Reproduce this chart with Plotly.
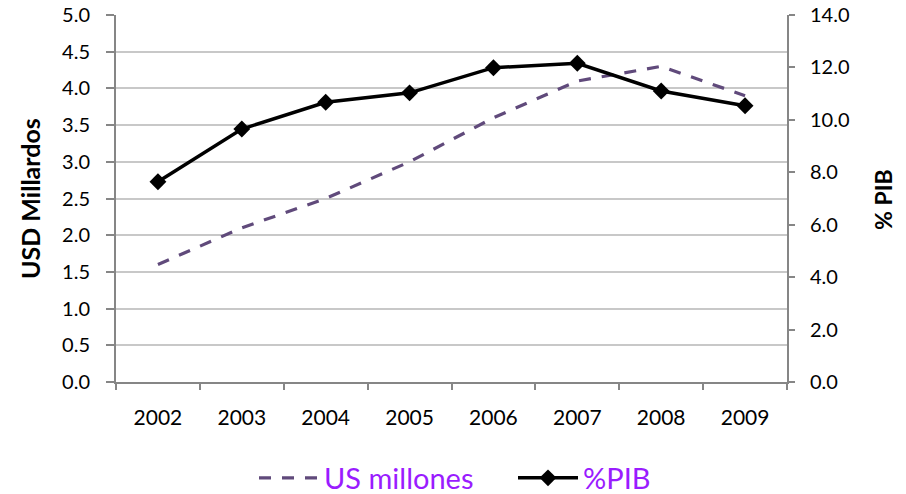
import plotly.graph_objects as go

years = ["2002", "2003", "2004", "2005", "2006", "2007", "2008", "2009"]
us_millones = [1.6, 2.1, 2.5, 3.0, 3.6, 4.1, 4.3, 3.9]
pct_pib = [7.64, 9.65, 10.67, 11.03, 11.99, 12.16, 11.10, 10.54]

FONT = "Lato"
AXC = "#868686"
L, R, T, B = 116, 119, 15, 112
W, H = 906, 494
pw = W - L - R
ph = H - T - B


def px(x):
    return (x - L) / pw


def py(y):
    return (H - B - y) / ph


fig = go.Figure()
fig.add_trace(go.Scatter(
    x=years, y=us_millones, name="US millones", mode="lines",
    line=dict(color="#604a7b", width=3.2, dash="12px,11px"),
    yaxis="y"))
fig.add_trace(go.Scatter(
    x=years, y=pct_pib, name="%PIB", mode="lines+markers",
    line=dict(color="#000000", width=3.5),
    marker=dict(symbol="diamond", size=13, color="#000000"),
    yaxis="y2"))

fig.update_layout(
    width=W, height=H,
    margin=dict(l=L, r=R, t=T, b=B, autoexpand=False),
    plot_bgcolor="white", paper_bgcolor="white",
    font=dict(family=FONT, size=21, color="#000000"),
    showlegend=True,
    legend=dict(orientation="h", x=px(254), xanchor="left",
                y=py(478), yanchor="middle",
                font=dict(family=FONT, size=29, color="#9a1cff"),
                itemwidth=60, entrywidth=184, tracegroupgap=0,
                bgcolor="rgba(0,0,0,0)"),
    xaxis=dict(type="category", range=[-0.5, 7.5], showgrid=False,
               showline=True, linecolor=AXC, linewidth=2,
               ticks="outside", tickson="boundaries", ticklen=6, tickcolor=AXC,
               tickwidth=1.5, tickfont=dict(size=21), automargin=False,
               ticklabelstandoff=16),
    yaxis=dict(range=[0, 5], dtick=0.5, tickformat=".1f",
               showgrid=True, gridcolor="#c8c8c8", gridwidth=1.5,
               showline=True, linecolor=AXC, linewidth=2,
               ticks="outside", ticklen=8, tickcolor=AXC, tickwidth=1.5,
               zeroline=False, tickfont=dict(size=20), automargin=False,
               ticklabelstandoff=12),
    yaxis2=dict(range=[0, 14], dtick=2, tickformat=".1f", overlaying="y",
                side="right", showgrid=False,
                showline=True, linecolor=AXC, linewidth=2,
                ticks="outside", ticklen=6, tickcolor=AXC, tickwidth=1.5,
                zeroline=False, tickfont=dict(size=20), automargin=False,
                ticklabelstandoff=11),
    annotations=[
        dict(text="<b>USD Millardos</b>", textangle=-90, x=px(30), y=py(199),
             xref="paper", yref="paper", showarrow=False,
             font=dict(family=FONT, size=25, color="#000000"),
             xanchor="center", yanchor="middle"),
        dict(text="<b>% PIB</b>", textangle=-90, x=px(883), y=py(200),
             xref="paper", yref="paper", showarrow=False,
             font=dict(family=FONT, size=23, color="#000000"),
             xanchor="center", yanchor="middle"),
    ],
)

fig.write_html("out.html",
               config={"displayModeBar": False},
               post_script="document.body.style.margin='0';"
                           "document.body.style.overflow='hidden';")
